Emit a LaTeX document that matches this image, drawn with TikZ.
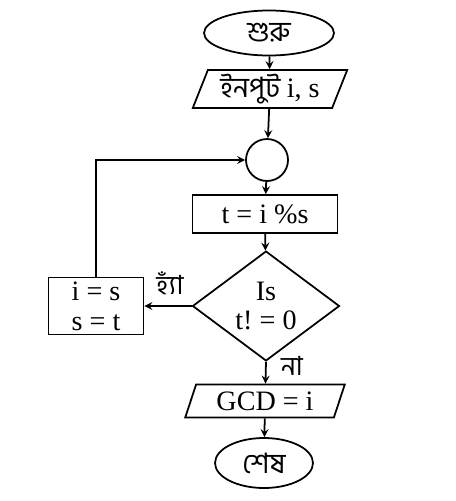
\documentclass[tikz,border=0pt]{standalone}
\usepackage{fontspec}
\setmainfont{Liberation Serif}
\newfontfamily\bngfont[Script=Bengali]{Hind Siliguri}
\usetikzlibrary{shapes.geometric}
\frenchspacing

\tikzset{
  flow/.style={draw=black,line width=1pt,font=\fontsize{16}{17}\selectfont,inner sep=0pt},
  term/.style={flow,ellipse},
  io/.style={flow,trapezium,trapezium left angle=68,trapezium right angle=112,trapezium stretches=true},
  proc/.style={flow,rectangle,align=center},
  test/.style={flow,diamond,align=center},
  link/.style={-stealth,line width=1pt}
}

\begin{document}
\begin{tikzpicture}[x=0.02cm,y=-0.02cm]
        \useasboundingbox (0,0) rectangle (456,501);

        \node[term,minimum width=2.6cm,minimum height=0.9cm] (start) at (269,33) {\bngfont শুরু};
        \node[io,minimum width=3.1cm,minimum height=0.76cm] (input) at (270,89) {\bngfont ইনপুট \rmfamily i, s};
        \node[flow,circle,minimum size=0.84cm] (join) at (267,160) {};
        \node[proc,minimum width=2.9cm,minimum height=0.76cm] (mod) at (265,214) {t = i \%s};
        \node[test,minimum width=2.94cm,minimum height=2.04cm] (check) at (266,306) {Is\\t! = 0};
        \node[proc,minimum width=1.9cm,minimum height=1.14cm] (swap) at (96,306) {i = s\\s = t};
        \node[io,minimum width=3.2cm,minimum height=0.66cm] (gcd) at (265,401) {GCD = i};
        \node[term,minimum width=1.96cm,minimum height=1.0cm] (stop) at (264,463) {\bngfont শেষ};

        \node[font=\fontsize{15}{16}\selectfont,inner sep=0pt] (yes) at (170,283) {\bngfont হ্যাঁ};
        \node[font=\fontsize{15}{16}\selectfont,inner sep=0pt] (no) at (292,366) {\bngfont না};

        \draw[link] (start) -- (input);
        \draw[link] (input) -- (join);
        \draw[link] (join) -- (mod);
        \draw[link] (mod) -- (check);
        \draw[link] (check.west) -- (swap.east);
        \draw[link] (swap.north) |- (join.west);
        \draw[link] (check.south) -- (gcd);
        \draw[link] (gcd) -- (stop);
    \end{tikzpicture}
\end{document}
